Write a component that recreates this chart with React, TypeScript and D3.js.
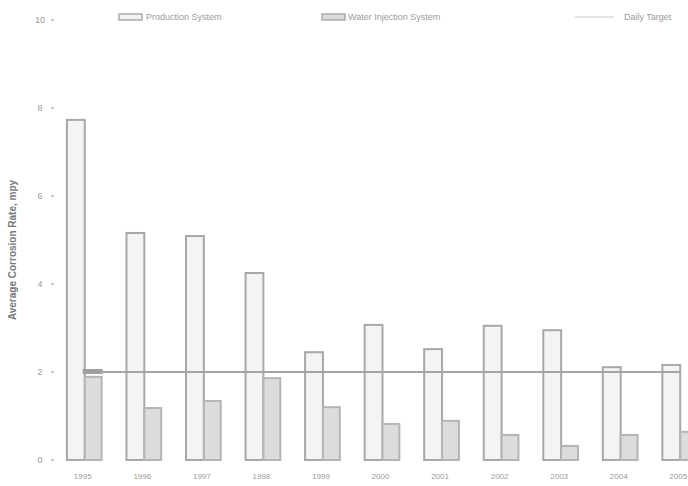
import React from "react";
import * as d3 from "d3";

const years = ["1995", "1996", "1997", "1998", "1999", "2000", "2001", "2002", "2003", "2004", "2005"];
const production = [7.73, 5.16, 5.09, 4.25, 2.45, 3.07, 2.52, 3.05, 2.95, 2.11, 2.16];
const waterInjection = [1.89, 1.18, 1.34, 1.86, 1.2, 0.82, 0.89, 0.57, 0.32, 0.57, 0.64];
const dailyTarget = [2, 2, 2, 2, 2, 2, 2, 2, 2, 2, 2];
const yTicks = [0, 2, 4, 6, 8, 10];
const seriesNames = ["Production System", "Water Injection System", "Daily Target"];

const W = 688;
const H = 486;

export default function App() {
  const x = d3.scaleBand<string>().domain(years).range([55, 710]).paddingInner(0.4).paddingOuter(0.2);
  const y = d3.scaleLinear().domain([0, 10]).range([460, 20]);
  const bw = x.bandwidth() / 2;
  const lineGen = d3
    .line<number>()
    .x((_, i) => (x(years[i]) as number) + bw)
    .y((d) => y(d));
  const font = "'Liberation Sans', Arial, sans-serif";
  const textCol = "#9a9a9a";
  return (
    <svg width={W} height={H} style={{ position: "absolute", left: 0, top: 0, background: "#fff" }} fontFamily={font}>
      {/* y ticks */}
      {yTicks.map((t) => (
        <g key={t}>
          <text x={40} y={y(t) + 3} fontSize={9} fill={textCol} textAnchor="middle">
            {t}
          </text>
          <line x1={51} x2={54} y1={y(t)} y2={y(t)} stroke="#c8c8c8" strokeWidth={2} />
        </g>
      ))}
      <text
        transform={`translate(16,${250}) rotate(-90)`}
        fontSize={10}
        fontWeight="bold"
        fill="#777"
        textAnchor="middle"
      >
        Average Corrosion Rate, mpy
      </text>
      {/* bars */}
      {years.map((yr, i) => {
        const x0 = x(yr) as number;
        return (
          <g key={yr}>
            <rect
              x={x0}
              y={y(production[i])}
              width={bw}
              height={y(0) - y(production[i])}
              fill="#f4f4f4"
              stroke="#a8a8a8"
              strokeWidth={2}
            />
            <rect
              x={x0 + bw}
              y={y(waterInjection[i])}
              width={bw - 1}
              height={y(0) - y(waterInjection[i])}
              fill="#dcdcdc"
              stroke="#b4b4b4"
              strokeWidth={2}
            />
            <text x={x0 + bw - 2} y={479} fontSize={8} fill={textCol} textAnchor="middle">
              {yr}
            </text>
          </g>
        );
      })}
      {/* daily target line */}
      <path d={lineGen(dailyTarget) || ""} fill="none" stroke="#a4a4a4" strokeWidth={2} />
      <rect
        x={(x(years[0]) as number) + bw - 2}
        y={y(dailyTarget[0]) - 3}
        width={bw + 2}
        height={5}
        fill="#a0a0a0"
      />
      {/* legend */}
      <rect x={119} y={14} width={23} height={6} fill="#f2f2f2" stroke="#aaa" strokeWidth={1.5} />
      <text x={146} y={20} fontSize={9} fill={textCol}>
        {seriesNames[0]}
      </text>
      <rect x={322} y={14} width={23} height={6} fill="#dcdcdc" stroke="#aaa" strokeWidth={1.5} />
      <text x={348} y={20} fontSize={9} fill={textCol}>
        {seriesNames[1]}
      </text>
      <line x1={575} x2={614} y1={17} y2={17} stroke="#e4e4e4" strokeWidth={2} />
      <text x={624} y={20} fontSize={9} fill={textCol}>
        {seriesNames[2]}
      </text>
    </svg>
  );
}
